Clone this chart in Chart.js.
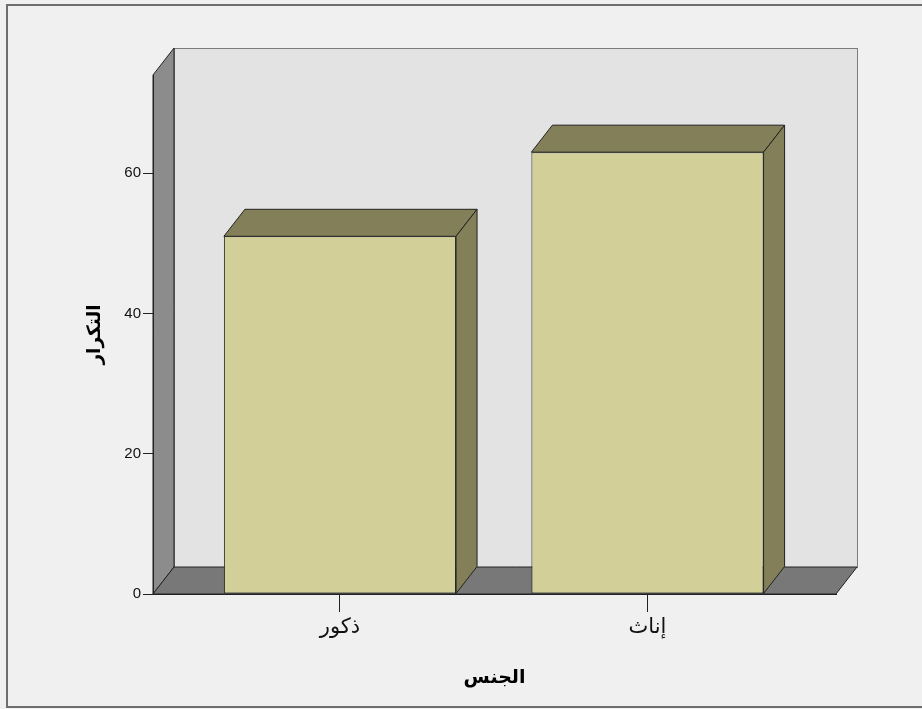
<!DOCTYPE html>
<html>
<head>
<meta charset="utf-8">
<title>التكرار حسب الجنس</title>
<script src="https://cdn.jsdelivr.net/npm/chart.js@4"></script>
<style>
  body { margin: 0; background: #f0f0f0; }
  #chart { display: block; }
</style>
</head>
<body>
<canvas id="chart" width="922" height="709"></canvas>
<script>
// data
const categories = ['ذكور', 'إناث'];
const counts = [51, 63];
const yTicks = [0, 20, 40, 60];
const xTitle = 'الجنس';
const yTitle = 'التكرار';

// depth of the fake 3d effect, in pixels
const depthX = 21;
const depthY = 27;

const threeD = {
  id: 'threeD',
  beforeDraw(chart) {
    const ctx = chart.ctx;
    const a = chart.chartArea;
    ctx.save();
    ctx.fillStyle = '#f0f0f0';
    ctx.fillRect(0, 0, chart.width, chart.height);
    // outer frame
    ctx.strokeStyle = '#6e6e6e';
    ctx.lineWidth = 2;
    ctx.strokeRect(7, 5, chart.width + 20, chart.height - 7);

    ctx.lineWidth = 1;
    // back wall
    ctx.fillStyle = '#e3e3e3';
    ctx.fillRect(a.left + depthX, a.top - depthY, a.right - a.left, a.bottom - a.top);
    ctx.strokeStyle = '#7c7c7c';
    ctx.strokeRect(a.left + depthX + 0.5, a.top - depthY + 0.5, a.right - a.left, a.bottom - a.top);

    ctx.strokeStyle = '#222';
    // left wall
    ctx.beginPath();
    ctx.moveTo(a.left, a.top);
    ctx.lineTo(a.left + depthX, a.top - depthY);
    ctx.lineTo(a.left + depthX, a.bottom - depthY);
    ctx.lineTo(a.left, a.bottom);
    ctx.closePath();
    ctx.fillStyle = '#8c8c8c';
    ctx.fill();
    ctx.stroke();
    // floor
    ctx.beginPath();
    ctx.moveTo(a.left, a.bottom);
    ctx.lineTo(a.left + depthX, a.bottom - depthY);
    ctx.lineTo(a.right + depthX, a.bottom - depthY);
    ctx.lineTo(a.right, a.bottom);
    ctx.closePath();
    ctx.fillStyle = '#787878';
    ctx.fill();
    ctx.stroke();
    ctx.restore();
  },
  afterDatasetsDraw(chart) {
    const ctx = chart.ctx;
    const meta = chart.getDatasetMeta(0);
    ctx.save();
    ctx.strokeStyle = '#222';
    ctx.lineWidth = 1;
    ctx.fillStyle = '#838059';
    meta.data.forEach(bar => {
      const p = bar.getProps(['x', 'y', 'base', 'width'], true);
      const l = p.x - p.width / 2;
      const r = p.x + p.width / 2;
      // top face
      ctx.beginPath();
      ctx.moveTo(l, p.y);
      ctx.lineTo(l + depthX, p.y - depthY);
      ctx.lineTo(r + depthX, p.y - depthY);
      ctx.lineTo(r, p.y);
      ctx.closePath();
      ctx.fill();
      ctx.stroke();
      // side face
      ctx.beginPath();
      ctx.moveTo(r, p.y);
      ctx.lineTo(r + depthX, p.y - depthY);
      ctx.lineTo(r + depthX, p.base - depthY);
      ctx.lineTo(r, p.base);
      ctx.closePath();
      ctx.fill();
      ctx.stroke();
    });
    ctx.restore();
  }
};

Chart.defaults.font.family = 'Arial, "DejaVu Sans", sans-serif';
Chart.defaults.color = '#111';

new Chart(document.getElementById('chart'), {
  type: 'bar',
  data: {
    datasets: [{
      data: counts.map((v, i) => ({ x: i, y: v })),
      backgroundColor: '#d3cf99',
      borderColor: '#222',
      borderWidth: 1,
      borderSkipped: false,
      categoryPercentage: 1,
      barPercentage: 0.755
    }]
  },
  options: {
    responsive: false,
    animation: false,
    devicePixelRatio: 1,
    layout: { padding: { left: 0, right: 86, top: 75, bottom: 0 } },
    plugins: { legend: { display: false }, tooltip: { enabled: false } },
    scales: {
      x: {
        type: 'linear',
        offset: false,
        min: -0.608,
        max: 1.613,
        afterBuildTicks: s => { s.ticks = categories.map((c, i) => ({ value: i })); },
        afterFit: s => { s.height = 115; },
        ticks: {
          callback: v => categories[v],
          font: { size: 21 },
          padding: 3,
          maxRotation: 0
        },
        grid: { offset: false, drawOnChartArea: false, drawTicks: true, tickLength: 18, color: '#222' },
        border: { display: true, color: '#222', width: 1 },
        title: {
          display: true,
          text: xTitle,
          font: { size: 19, weight: 'bold' },
          color: '#000',
          padding: { top: 0, bottom: 20 }
        }
      },
      y: {
        min: 0,
        max: 74,
        afterBuildTicks: s => { s.ticks = yTicks.map(v => ({ value: v })); },
        afterFit: s => { s.width = 153; },
        ticks: { font: { size: 15 }, padding: 2 },
        grid: { drawOnChartArea: false, drawTicks: true, tickLength: 10, color: '#222' },
        border: { display: true, color: '#222', width: 1 },
        title: {
          display: true,
          text: yTitle,
          font: { size: 18.5, weight: 'bold' },
          color: '#000',
          padding: { top: 84, bottom: 0 }
        }
      }
    }
  },
  plugins: [threeD]
});
</script>
</body>
</html>
